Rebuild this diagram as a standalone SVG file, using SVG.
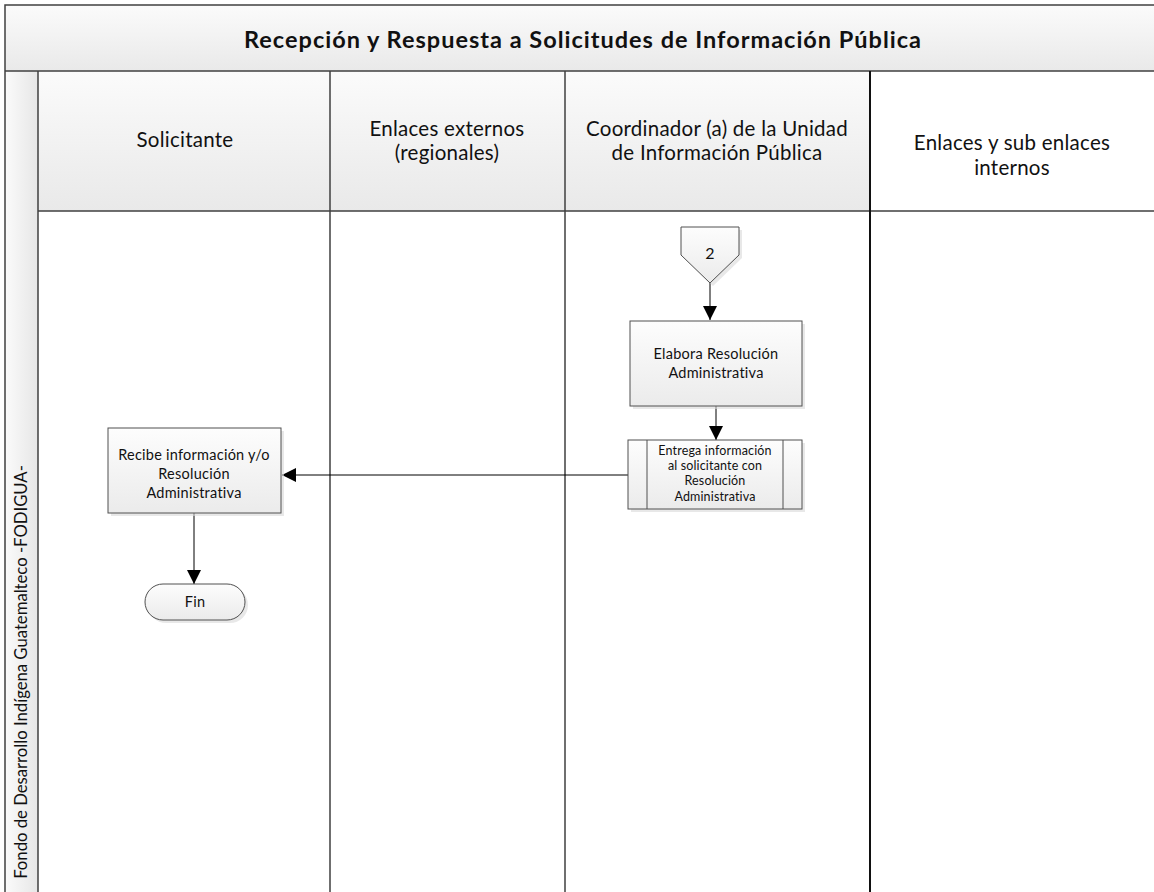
<svg xmlns="http://www.w3.org/2000/svg" width="1154" height="892" viewBox="0 0 1154 892">
<defs>
<linearGradient id="hg" x1="0" y1="0" x2="0" y2="1"><stop offset="0" stop-color="#fbfbfb"/><stop offset="1" stop-color="#e9e9e9"/></linearGradient>
<linearGradient id="pg" x1="0" y1="0" x2="1" y2="0"><stop offset="0" stop-color="#fbfbfb"/><stop offset="1" stop-color="#e6e6e6"/></linearGradient>
<linearGradient id="ng" x1="0" y1="0" x2="0" y2="1"><stop offset="0" stop-color="#fdfdfd"/><stop offset="1" stop-color="#ebebeb"/></linearGradient>
<marker id="ah" viewBox="0 0 10 10" refX="10" refY="5" markerWidth="14" markerHeight="14" markerUnits="userSpaceOnUse" orient="auto"><path d="M0,0 L10,5 L0,10 z" fill="#000"/></marker>
<style>
.ln{stroke:#404040;stroke-width:1.5;fill:none}
.hd{font-family:Lato,"Open Sans",sans-serif;font-size:20.5px;letter-spacing:0.25px;fill:#111;text-anchor:middle}
.tt{font-family:Lato,"Open Sans",sans-serif;font-size:23.5px;letter-spacing:1px;font-weight:bold;fill:#111;text-anchor:middle}
.nt{font-family:Lato,"Open Sans",sans-serif;font-size:14.5px;letter-spacing:0.25px;fill:#111;text-anchor:middle}
.st{font-family:Lato,"Open Sans",sans-serif;font-size:12.5px;letter-spacing:0.15px;fill:#111;text-anchor:middle}
.pl{font-family:Lato,"Open Sans",sans-serif;font-size:16.7px;fill:#111;text-anchor:middle}
.box{fill:url(#ng);stroke:#505050;stroke-width:1}
.sh{fill:#d8d8d8;opacity:0.6}
.cn{stroke:#000;stroke-width:1;fill:none;marker-end:url(#ah)}
</style>
</defs>
<rect width="1154" height="892" fill="#fff"/>
<g id="pool">
<rect x="5" y="5" width="1152" height="66" fill="url(#hg)"/>
<rect x="5" y="71" width="33" height="825" fill="url(#pg)"/>
<rect x="38" y="71" width="832" height="140" fill="url(#hg)"/>
<rect x="870" y="71" width="290" height="140" fill="#fff"/>
<path class="ln" d="M5,896 V5 H1160 M5,71 H1160 M38,211 H1160 M38,71 V896 M330,71 V896 M565,71 V896"/>
<path d="M870,71 V896" stroke="#111" stroke-width="2"/>
<text class="tt" x="583" y="48">Recepción y Respuesta a Solicitudes de Información Pública</text>
<text class="hd" x="185" y="147">Solicitante</text>
<text class="hd" x="447" y="136">Enlaces externos</text>
<text class="hd" x="447" y="160">(regionales)</text>
<text class="hd" x="717" y="136">Coordinador (a) de la Unidad</text>
<text class="hd" x="717" y="160">de Información Pública</text>
<text class="hd" x="1012" y="150">Enlaces y sub enlaces</text>
<text class="hd" x="1012" y="175">internos</text>
<text class="pl" transform="translate(27,672) rotate(-90)">Fondo de Desarrollo Indígena Guatemalteco -FODIGUA-</text>
</g>
<g id="connectors">
<path class="cn" d="M710,283 V320"/>
<path class="cn" d="M716,406 V440"/>
<path class="cn" d="M628,475 H282"/>
<path class="cn" d="M194,513 V584"/>
</g>
<g id="n-offpage">
<path d="M684,230 H742 V258 L713,286 L684,258 z" class="sh"/>
<path d="M681,227 H739 V255 L710,283 L681,255 z" class="box"/>
<text class="nt" x="710" y="259" style="font-size:16px">2</text>
</g>
<g id="n-elabora">
<rect x="633" y="324" width="172" height="85" class="sh"/>
<rect x="630" y="321" width="172" height="85" class="box"/>
<text class="nt" x="716" y="359">Elabora Resolución</text>
<text class="nt" x="716" y="378">Administrativa</text>
</g>
<g id="n-entrega">
<rect x="631" y="443" width="174" height="69" class="sh"/>
<rect x="628" y="440" width="174" height="69" class="box"/>
<path d="M647,440 V509 M783,440 V509" stroke="#505050" stroke-width="1"/>
<text class="st" x="715" y="455">Entrega información</text>
<text class="st" x="715" y="470">al solicitante con</text>
<text class="st" x="715" y="485">Resolución</text>
<text class="st" x="715" y="501">Administrativa</text>
</g>
<g id="n-recibe">
<rect x="111" y="431" width="173" height="85" class="sh"/>
<rect x="108" y="428" width="173" height="85" class="box"/>
<text class="nt" x="194" y="460">Recibe información y/o</text>
<text class="nt" x="194" y="479">Resolución</text>
<text class="nt" x="194" y="498">Administrativa</text>
</g>
<g id="n-fin">
<rect x="148" y="587" width="100" height="36" rx="18" class="sh"/>
<rect x="145" y="584" width="100" height="36" rx="18" class="box"/>
<text class="nt" x="195" y="607">Fin</text>
</g>
</svg>
